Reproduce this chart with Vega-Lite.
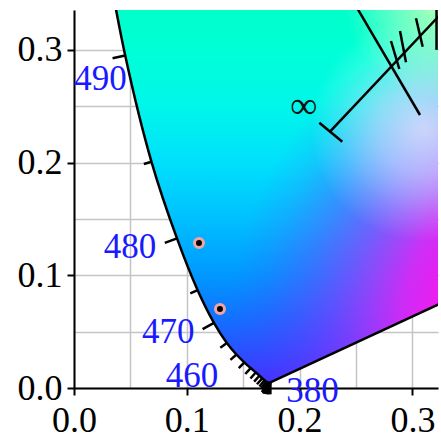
{
  "$schema": "https://vega.github.io/schema/vega-lite/v6.json",
  "width": 364,
  "height": 378,
  "autosize": "none",
  "padding": {"left": 74, "top": 10, "right": 3, "bottom": 50},
  "background": "white",
  "config": {"view": {"stroke": null}},
  "encoding": {
    "x": {
      "field": "x", "type": "quantitative",
      "scale": {"domain": [0, 0.3227], "nice": false, "zero": false},
      "axis": {
        "title": null,
        "values": [0, 0.05, 0.1, 0.15, 0.2, 0.25, 0.3],
        "labelExpr": "abs(datum.value*10-round(datum.value*10))<0.01 ? format(datum.value,'.1f') : ''",
        "tickOpacity": {"condition": {"test": "abs(datum.value*10-round(datum.value*10))>0.01", "value": 0}, "value": 1},
        "labelFont": "Liberation Serif", "labelFontSize": 36, "labelColor": "black",
        "labelPadding": 8, "labelFlush": false, "labelOverlap": false,
        "tickSize": 7, "tickWidth": 2, "tickColor": "black",
        "domainColor": "black", "domainWidth": 2,
        "grid": true, "gridColor": "#c4c4c4", "gridWidth": 1.5
      }
    },
    "y": {
      "field": "y", "type": "quantitative",
      "scale": {"domain": [0, 0.3354], "nice": false, "zero": false},
      "axis": {
        "title": null,
        "values": [0, 0.05, 0.1, 0.15, 0.2, 0.25, 0.3],
        "labelExpr": "abs(datum.value*10-round(datum.value*10))<0.01 ? format(datum.value,'.1f') : ''",
        "tickOpacity": {"condition": {"test": "abs(datum.value*10-round(datum.value*10))>0.01", "value": 0}, "value": 1},
        "labelFont": "Liberation Serif", "labelFontSize": 36, "labelColor": "black",
        "labelPadding": 5, "labelFlush": false, "labelOverlap": false,
        "tickSize": 7, "tickWidth": 2, "tickColor": "black",
        "domainColor": "black", "domainWidth": 2,
        "grid": true, "gridColor": "#c4c4c4", "gridWidth": 1.5
      }
    }
  },
  "datasets": {
    "region": [
      {"y": 0.0050, "x": 0.1741, "x2": 0.1741},
      {"y": 0.0051, "x": 0.1714, "x2": 0.1743},
      {"y": 0.0058, "x": 0.1703, "x2": 0.1758},
      {"y": 0.0069, "x": 0.1689, "x2": 0.1782},
      {"y": 0.0086, "x": 0.1669, "x2": 0.1819},
      {"y": 0.0109, "x": 0.1644, "x2": 0.1868},
      {"y": 0.0138, "x": 0.1611, "x2": 0.1931},
      {"y": 0.0177, "x": 0.1566, "x2": 0.2015},
      {"y": 0.0227, "x": 0.1510, "x2": 0.2122},
      {"y": 0.0297, "x": 0.1440, "x2": 0.2273},
      {"y": 0.0399, "x": 0.1355, "x2": 0.2493},
      {"y": 0.0578, "x": 0.1241, "x2": 0.2878},
      {"y": 0.0868, "x": 0.1096, "x2": 0.3503},
      {"y": 0.1327, "x": 0.0913, "x2": 0.4492},
      {"y": 0.2007, "x": 0.0687, "x2": 0.5956},
      {"y": 0.2950, "x": 0.0454, "x2": 0.7987},
      {"y": 0.4127, "x": 0.0235, "x2": 1.0522}
    ],
    "violet": [
      {"x": 0.1241, "y": 0.0578, "y2": 0.45},
      {"x": 0.1355, "y": 0.0399, "y2": 0.45},
      {"x": 0.1440, "y": 0.0297, "y2": 0.45},
      {"x": 0.1510, "y": 0.0227, "y2": 0.45},
      {"x": 0.1566, "y": 0.0177, "y2": 0.45},
      {"x": 0.1611, "y": 0.0138, "y2": 0.45},
      {"x": 0.1644, "y": 0.0109, "y2": 0.45},
      {"x": 0.1669, "y": 0.0086, "y2": 0.45},
      {"x": 0.1689, "y": 0.0069, "y2": 0.45},
      {"x": 0.1703, "y": 0.0058, "y2": 0.45},
      {"x": 0.1714, "y": 0.0051, "y2": 0.45},
      {"x": 0.1741, "y": 0.0050, "y2": 0.45},
      {"x": 0.5700, "y": 0.1888, "y2": 0.45}
    ],
    "locus": [
      {"w": 380, "x": 0.1741, "y": 0.0050},
      {"w": 385, "x": 0.1740, "y": 0.0050},
      {"w": 390, "x": 0.1738, "y": 0.0049},
      {"w": 395, "x": 0.1736, "y": 0.0049},
      {"w": 400, "x": 0.1733, "y": 0.0048},
      {"w": 405, "x": 0.1730, "y": 0.0048},
      {"w": 410, "x": 0.1726, "y": 0.0048},
      {"w": 415, "x": 0.1721, "y": 0.0048},
      {"w": 420, "x": 0.1714, "y": 0.0051},
      {"w": 425, "x": 0.1703, "y": 0.0058},
      {"w": 430, "x": 0.1689, "y": 0.0069},
      {"w": 435, "x": 0.1669, "y": 0.0086},
      {"w": 440, "x": 0.1644, "y": 0.0109},
      {"w": 445, "x": 0.1611, "y": 0.0138},
      {"w": 450, "x": 0.1566, "y": 0.0177},
      {"w": 455, "x": 0.1510, "y": 0.0227},
      {"w": 460, "x": 0.1440, "y": 0.0297},
      {"w": 465, "x": 0.1355, "y": 0.0399},
      {"w": 470, "x": 0.1241, "y": 0.0578},
      {"w": 475, "x": 0.1096, "y": 0.0868},
      {"w": 480, "x": 0.0913, "y": 0.1327},
      {"w": 485, "x": 0.0687, "y": 0.2007},
      {"w": 490, "x": 0.0454, "y": 0.2950},
      {"w": 495, "x": 0.0235, "y": 0.4127}
    ]
  },
  "layer": [
    {
      "data": {"name": "region"},
      "mark": {
        "type": "area", "orient": "horizontal", "interpolate": "catmull-rom", "clip": true,
        "fill": {
          "gradient": "linear", "x1": 0, "y1": 0, "x2": 0, "y2": 1,
          "stops": [
            {"offset": 0.1783, "color": "rgb(0,255,200)"},
            {"offset": 0.2764, "color": "rgb(0,255,214)"},
            {"offset": 0.3990, "color": "rgb(0,246,234)"},
            {"offset": 0.5217, "color": "rgb(0,224,252)"},
            {"offset": 0.6443, "color": "rgb(0,192,255)"},
            {"offset": 0.7670, "color": "rgb(0,152,255)"},
            {"offset": 0.8651, "color": "rgb(20,110,255)"},
            {"offset": 0.9632, "color": "rgb(50,68,255)"},
            {"offset": 1.0, "color": "rgb(65,50,255)"}
          ]
        }
      },
      "encoding": {"x2": {"field": "x2"}}
    },
    {
      "data": {"name": "violet"},
      "mark": {
        "type": "area", "clip": true,
        "fill": {
          "gradient": "radial", "x1": 0.6636, "y1": 0.8764, "r1": 0, "x2": 0.6636, "y2": 0.8764, "r2": 0.628,
          "stops": [
            {"offset": 0, "color": "rgba(238,30,235,1)"},
            {"offset": 0.357, "color": "rgba(235,30,240,1)"},
            {"offset": 0.464, "color": "rgba(225,35,245,0.9)"},
            {"offset": 0.571, "color": "rgba(200,40,248,0.7)"},
            {"offset": 0.679, "color": "rgba(170,40,252,0.5)"},
            {"offset": 0.786, "color": "rgba(145,40,255,0.3)"},
            {"offset": 0.893, "color": "rgba(130,40,255,0.12)"},
            {"offset": 1, "color": "rgba(120,40,255,0)"}
          ]
        }
      },
      "encoding": {"y2": {"field": "y2"}}
    },
    {
      "data": {"values": [{"x": 0.2, "x2": 0.44, "y": 0.1, "y2": 0.34}]},
      "mark": {
        "type": "rect", "clip": true,
        "fill": {
          "gradient": "radial", "x1": 0.458, "y1": 0.458, "r1": 0, "x2": 0.458, "y2": 0.458, "r2": 0.417,
          "stops": [
            {"offset": 0, "color": "rgba(250,232,252,0.75)"},
            {"offset": 0.4, "color": "rgba(250,240,255,0.5)"},
            {"offset": 0.75, "color": "rgba(255,255,255,0.18)"},
            {"offset": 1, "color": "rgba(255,255,255,0)"}
          ]
        }
      },
      "encoding": {"x2": {"field": "x2"}, "y2": {"field": "y2"}}
    },
    {
      "data": {"values": [{"x": 0.22, "x2": 0.44, "y": 0.22, "y2": 0.44}]},
      "mark": {
        "type": "rect", "clip": true,
        "fill": {
          "gradient": "radial", "x1": 0.5, "y1": 0.432, "r1": 0, "x2": 0.5, "y2": 0.432, "r2": 0.41,
          "stops": [
            {"offset": 0, "color": "rgba(220,255,175,0.9)"},
            {"offset": 0.5, "color": "rgba(200,255,190,0.5)"},
            {"offset": 1, "color": "rgba(200,255,200,0)"}
          ]
        }
      },
      "encoding": {"x2": {"field": "x2"}, "y2": {"field": "y2"}}
    },
    {
      "data": {"name": "locus"},
      "mark": {"type": "line", "color": "black", "strokeWidth": 2.5, "interpolate": "catmull-rom", "clip": true},
      "encoding": {"order": {"field": "w", "type": "quantitative"}}
    },
    {
      "data": {"values": [{"x": 0.1741, "y": 0.0050}, {"x": 0.7347, "y": 0.2653}]},
      "mark": {"type": "line", "color": "black", "strokeWidth": 2.5, "clip": true},
      "encoding": {}
    },
    {
      "data": {"values": [
        {"x": 0.1741, "y": 0.0050, "x2": 0.1741, "y2": -0.0056},
        {"x": 0.1740, "y": 0.0050, "x2": 0.1729, "y2": -0.0055},
        {"x": 0.1738, "y": 0.0049, "x2": 0.1717, "y2": -0.0055},
        {"x": 0.1736, "y": 0.0049, "x2": 0.1709, "y2": -0.0054},
        {"x": 0.1733, "y": 0.0048, "x2": 0.1701, "y2": -0.0053},
        {"x": 0.1730, "y": 0.0048, "x2": 0.1695, "y2": -0.0052},
        {"x": 0.1726, "y": 0.0048, "x2": 0.1688, "y2": -0.0051},
        {"x": 0.1721, "y": 0.0048, "x2": 0.1676, "y2": -0.0048},
        {"x": 0.1714, "y": 0.0051, "x2": 0.1666, "y2": -0.0036},
        {"x": 0.1703, "y": 0.0058, "x2": 0.1662, "y2": 0.0000},
        {"x": 0.1689, "y": 0.0069, "x2": 0.1644, "y2": 0.0014},
        {"x": 0.1669, "y": 0.0086, "x2": 0.1622, "y2": 0.0033},
        {"x": 0.1644, "y": 0.0109, "x2": 0.1597, "y2": 0.0056},
        {"x": 0.1611, "y": 0.0138, "x2": 0.1564, "y2": 0.0084},
        {"x": 0.1566, "y": 0.0177, "x2": 0.1519, "y2": 0.0124},
        {"x": 0.1510, "y": 0.0227, "x2": 0.1461, "y2": 0.0176},
        {"x": 0.1440, "y": 0.0297, "x2": 0.1387, "y2": 0.0250},
        {"x": 0.1355, "y": 0.0399, "x2": 0.1297, "y2": 0.0358},
        {"x": 0.1241, "y": 0.0578, "x2": 0.1140, "y2": 0.0522},
        {"x": 0.1096, "y": 0.0868, "x2": 0.1031, "y2": 0.0840},
        {"x": 0.0913, "y": 0.1327, "x2": 0.0805, "y2": 0.1288},
        {"x": 0.0687, "y": 0.2007, "x2": 0.0619, "y2": 0.1988},
        {"x": 0.0454, "y": 0.2950, "x2": 0.0342, "y2": 0.2926}
      ]},
      "mark": {"type": "rule", "color": "black", "strokeWidth": 2.5},
      "encoding": {"x2": {"field": "x2"}, "y2": {"field": "y2"}}
    },
    {
      "data": {"values": [
        {"x": 0.22695, "y": 0.22742, "x2": 0.3300, "y2": 0.3369},
        {"x": 0.21747, "y": 0.23540, "x2": 0.23785, "y2": 0.21854},
        {"x": 0.28103, "y": 0.30790, "x2": 0.28840, "y2": 0.28305},
        {"x": 0.28901, "y": 0.31677, "x2": 0.29433, "y2": 0.28900},
        {"x": 0.30319, "y": 0.32804, "x2": 0.30913, "y2": 0.30284},
        {"x": 0.24640, "y": 0.34500, "x2": 0.30674, "y2": 0.24224},
        {"x": 0.32140, "y": 0.34500, "x2": 0.32140, "y2": 0.30000}
      ]},
      "mark": {"type": "rule", "color": "black", "strokeWidth": 2.5, "clip": true},
      "encoding": {"x2": {"field": "x2"}, "y2": {"field": "y2"}}
    },
    {
      "data": {"values": [
        {"x": 0.0235, "y": 0.2644, "label": "490"},
        {"x": 0.0496, "y": 0.1151, "label": "480"},
        {"x": 0.0836, "y": 0.0397, "label": "470"},
        {"x": 0.1046, "y": 0.0009, "label": "460"},
        {"x": 0.2114, "y": -0.0124, "label": "380"}
      ]},
      "mark": {"type": "text", "font": "Liberation Serif", "fontSize": 35, "color": "#1a1aff", "align": "center", "baseline": "alphabetic"},
      "encoding": {"text": {"field": "label"}}
    },
    {
      "data": {"values": [{"x": 0.2037, "y": 0.2396, "label": "∞"}]},
      "mark": {"type": "text", "font": "Liberation Serif", "fontSize": 38, "color": "#111111", "align": "center", "baseline": "alphabetic"},
      "encoding": {"text": {"field": "label"}}
    },
    {
      "data": {"values": [{"x": 0.1108, "y": 0.1287}, {"x": 0.1294, "y": 0.0701}]},
      "mark": {"type": "point", "shape": "circle", "filled": true, "fill": "black", "stroke": "#f4a3a3", "strokeWidth": 3, "size": 81, "opacity": 1},
      "encoding": {}
    }
  ]
}
